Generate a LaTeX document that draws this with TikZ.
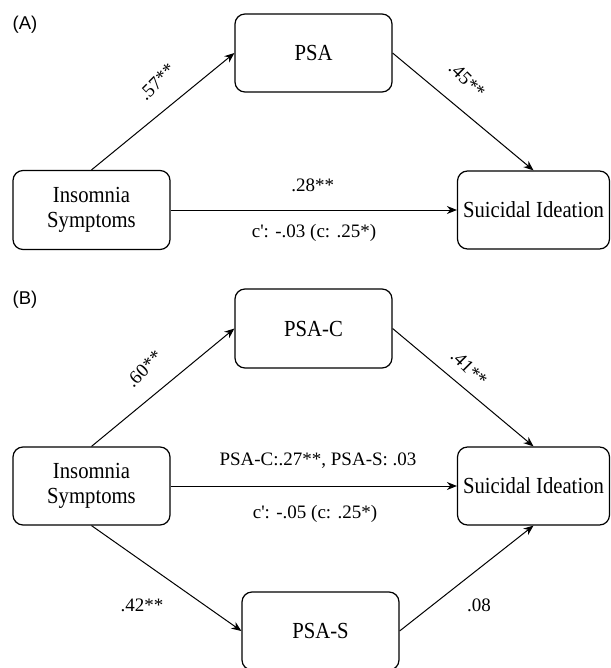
\documentclass[tikz,border=0pt]{standalone}
\usepackage{fontspec}
\usepackage{graphicx}
\setmainfont{Liberation Serif}
\newfontfamily\panelfont{Liberation Sans}
\newcommand\sqz[1]{\scalebox{0.9}[1]{#1}}
\usetikzlibrary{arrows.meta}
\begin{document}
\begin{tikzpicture}[x=1pt,y=-1pt,
 box/.style={draw, line width=1.2pt, rounded corners=10pt, font=\fontsize{23}{25}\selectfont, align=center, inner sep=0pt},
 arr/.style={line width=1pt, -{Stealth[length=10pt,width=8pt]}},
 lab/.style={font=\fontsize{19}{21}\selectfont, inner sep=0pt},
 panel/.style={font=\panelfont\fontsize{18.5}{20}\selectfont, inner sep=0pt}]
\useasboundingbox (0,0) rectangle (610,668);
% Panel A
\node[panel] (pa) at (25,24.5) {(A)};
\node[box, minimum width=157pt, minimum height=78pt] (psa) at (313.5,53) {\sqz{PSA}};
\node[box, minimum width=157pt, minimum height=79pt] (ins) at (91.5,210) {\sqz{Insomnia}\\\sqz{Symptoms}};
\node[box, minimum width=152pt, minimum height=78pt] (sui) at (533.5,210) {\sqz{Suicidal Ideation}};
\draw[arr] (ins.north) -- (psa.west);
\draw[arr] (psa.east) -- (sui.north);
\draw[arr] (ins.east) -- (sui.west);
\node[lab, rotate=45] (l1) at (157,82) {.57**};
\node[lab, rotate=-45] (l2) at (467,80) {.45**};
\node[lab] (l3) at (312.7,185.5) {.28**};
\node[lab] (l4) at (314,233) {c\textquotesingle: -.03 (c: .25*)};
% Panel B
\node[panel] (pb) at (25,300) {(B)};
\node[box, minimum width=157pt, minimum height=79pt] (psac) at (313.5,328.5) {\sqz{PSA-C}};
\node[box, minimum width=157pt, minimum height=78pt] (insb) at (91.5,486) {\sqz{Insomnia}\\\sqz{Symptoms}};
\node[box, minimum width=152pt, minimum height=78pt] (suib) at (533.5,486) {\sqz{Suicidal Ideation}};
\node[box, minimum width=157pt, minimum height=78pt] (psas) at (320.5,631) {\sqz{PSA-S}};
\draw[arr] (insb.north) -- (psac.west);
\draw[arr] (psac.east) -- (suib.north);
\draw[arr] (insb.east) -- (suib.west);
\draw[arr] (insb.south) -- (psas.west);
\draw[arr] (psas.east) -- (suib.south);
\node[lab, rotate=45] (m1) at (144,369) {.60**};
\node[lab, rotate=-45] (m2) at (469,368) {.41**};
\node[lab] (m3) at (318,461) {PSA-C:.27**, PSA-S: .03};
\node[lab] (m4) at (315,514) {c\textquotesingle: -.05 (c: .25*)};
\node[lab] (m5) at (142,605) {.42**};
\node[lab] (m6) at (479,605) {.08};
\end{tikzpicture}
\end{document}
